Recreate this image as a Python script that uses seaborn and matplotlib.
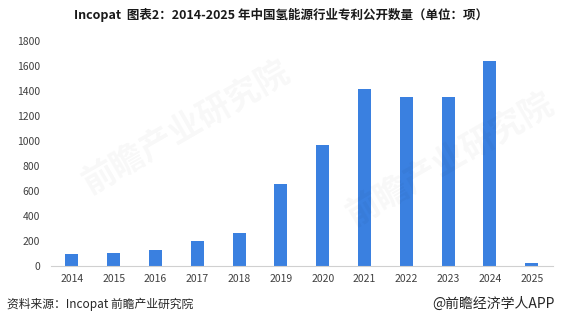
import matplotlib
matplotlib.use("Agg")
import matplotlib.pyplot as plt
import seaborn as sns
import pandas as pd

years = ['2014', '2015', '2016', '2017', '2018', '2019', '2020', '2021', '2022', '2023', '2024', '2025']
patents = [94, 104, 128, 200, 264, 654, 967, 1415, 1351, 1351, 1640, 22]
yticks = [0, 200, 400, 600, 800, 1000, 1200, 1400, 1600, 1800]

title = 'Incopat  图表2：2014-2025 年中国氢能源行业专利公开数量（单位：项）'
source = '资料来源：Incopat 前瞻产业研究院'
brand = '@前瞻经济学人APP'

sns.set_theme(style="white")
plt.rcParams['font.family'] = ['Noto Sans CJK SC', 'DejaVu Sans']

df = pd.DataFrame({'year': years, 'count': patents})

fig = plt.figure(figsize=(5.63, 3.19), dpi=100)
ax = fig.add_axes([0.0906, 0.167, 0.891, 0.7045])
sns.barplot(data=df, x='year', y='count', color='#3A80E0', saturation=1, width=0.31,
            linewidth=0, ax=ax)

ax.set_ylim(0, 1800)
ax.set_yticks(yticks)
ax.set_xlabel('')
ax.set_ylabel('')
ax.tick_params(axis='both', length=0, labelsize=7.5, colors='#404040')
ax.tick_params(axis='x', pad=6)
ax.tick_params(axis='y', pad=8)
for s in ['top', 'right', 'left']:
    ax.spines[s].set_visible(False)
ax.spines['bottom'].set_color('#d0d0d0')
ax.spines['bottom'].set_linewidth(0.8)

# faint watermark
fig.text(0.33, 0.6, '前瞻产业研究院', fontsize=24, color='#000000', alpha=0.03,
         rotation=30, ha='center', va='center', fontweight='bold')
fig.text(0.8, 0.5, '前瞻产业研究院', fontsize=24, color='#000000', alpha=0.03,
         rotation=30, ha='center', va='center', fontweight='bold')

fig.text(0.5, 0.953, title, fontsize=9, fontweight='bold', ha='center', va='center', color='#1a1a1a')
fig.text(0.012, 0.047, source, fontsize=8.5, ha='left', va='center', color='#262626')
fig.text(0.985, 0.047, brand, fontsize=10, ha='right', va='center', color='#262626')

fig.savefig('out.png', dpi=100)
